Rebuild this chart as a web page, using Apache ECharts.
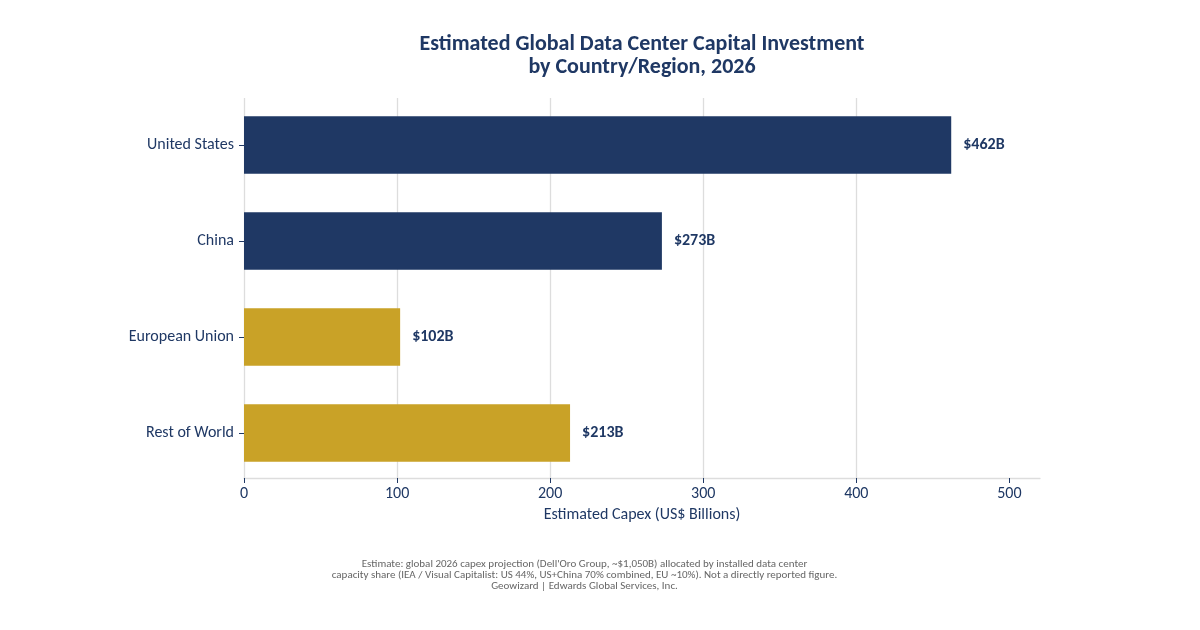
<!DOCTYPE html>
<html><head><meta charset="utf-8">
<style>html,body{margin:0;padding:0;background:#fff}#c{width:1200px;height:630px}</style>
<script src="https://cdn.jsdelivr.net/npm/echarts@6/dist/echarts.min.js"></script>
</head><body><div id="c"></div>
<script>
const categories = ["United States","China","European Union","Rest of World"];
const capex = [462,273,102,213];
const barColors = ["#1F3864","#1F3864","#C9A227","#C9A227"];
const xTicks = [0,100,200,300,400,500];
const titleText = "Estimated Global Data Center Capital Investment\nby Country/Region, 2026";
const axisTitle = "Estimated Capex (US$ Billions)";
const footnote = "Estimate: global 2026 capex projection (Dell'Oro Group, ~$1,050B) allocated by installed data center\ncapacity share (IEA / Visual Capitalist: US 44%, US+China 70% combined, EU ~10%). Not a directly reported figure.\nGeowizard | Edwards Global Services, Inc.";
const NAVY="#1F3864", FONT="Carlito, Lato, 'Open Sans', sans-serif";
const chart = echarts.init(document.getElementById('c'),null,{renderer:'canvas'});
chart.setOption({
  animation:false,
  backgroundColor:'#fff',
  title:[
    {text:titleText,left:637,top:28,textAlign:'center',textStyle:{fontFamily:FONT,fontSize:22,fontWeight:'bold',color:NAVY,lineHeight:23}},
    {text:footnote,left:579.5,top:554,textAlign:'center',textStyle:{fontFamily:FONT,fontSize:11,fontWeight:'normal',color:'#666666',lineHeight:11}}
  ],
  grid:[
    {left:244,width:796,top:97,height:384},
    {left:244,width:796,top:98,height:380}
  ],
  xAxis:[
    {gridIndex:0,type:'value',min:0,max:520,show:false},
    {gridIndex:1,type:'value',min:0,max:520,interval:100,
     name:axisTitle,nameLocation:'middle',nameGap:29,
     nameTextStyle:{fontFamily:FONT,fontSize:16,color:NAVY},
     axisLine:{show:true,lineStyle:{color:'#DDDDDD',width:1.3}},
     axisTick:{show:true,length:5,lineStyle:{color:NAVY,width:1},customValues:xTicks},
     axisLabel:{fontFamily:FONT,fontSize:16,color:NAVY,margin:8,customValues:xTicks,formatter:v=>String(v)},
     splitLine:{show:true,showMaxLine:false,lineStyle:{color:'#DDDDDD',width:1.3}}}
  ],
  yAxis:[
    {gridIndex:0,type:'category',inverse:true,data:categories,
     axisLine:{show:false},
     axisTick:{show:true,length:5,alignWithLabel:true,lineStyle:{color:NAVY,width:1}},
     axisLabel:{fontFamily:FONT,fontSize:16,color:NAVY,margin:10,padding:[2,0,0,0]},
     splitLine:{show:false}},
    {gridIndex:1,type:'value',min:0,max:1,show:false}
  ],
  series:[{
    type:'bar',xAxisIndex:0,yAxisIndex:0,barWidth:'60%',z:3,
    data:capex.map((v,i)=>({value:v,itemStyle:{color:barColors[i]}})),
    label:{show:true,position:'right',distance:12,formatter:p=>'$'+p.value+'B',
      fontFamily:FONT,fontSize:16,fontWeight:'bold',color:NAVY}
  }]
});
</script></body></html>
